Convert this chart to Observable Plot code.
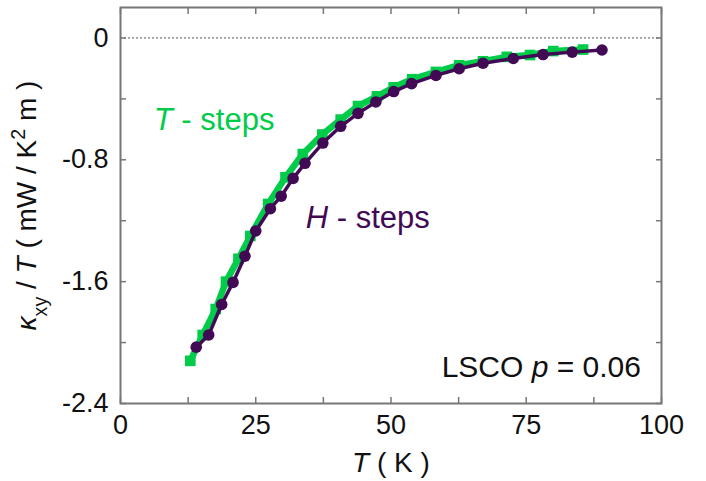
<!DOCTYPE html>
<html>
<head>
<meta charset="utf-8">
<script src="https://cdn.jsdelivr.net/npm/d3@7"></script>
<script src="https://cdn.jsdelivr.net/npm/@observablehq/plot@0.6"></script>
<style>
  html, body { margin: 0; padding: 0; background: #fff; }
  svg { font-family: "Liberation Sans", Arial, sans-serif; }
</style>
</head>
<body>
<div id="chart"></div>
<script>
// T-steps (green squares)
const tStepsT = [12.9, 15.2, 17.6, 19.5, 21.8, 24.0, 27.3, 30.5, 33.7, 37.3, 40.7, 43.9, 47.4, 50.5, 53.9, 58.3, 62.6, 67.0, 71.4, 75.7, 80.0, 85.5];
const tStepsK = [-2.12, -1.95, -1.78, -1.60, -1.45, -1.30, -1.09, -0.915, -0.762, -0.634, -0.536, -0.447, -0.383, -0.324, -0.271, -0.223, -0.179, -0.153, -0.124, -0.112, -0.086, -0.076];
// H-steps (purple circles)
const hStepsT = [14.0, 16.3, 18.7, 20.8, 23.0, 25.0, 27.7, 29.7, 31.9, 34.1, 37.4, 40.7, 43.9, 47.2, 50.5, 53.8, 58.3, 62.6, 67.0, 72.6, 78.1, 83.5, 89.0];
const hStepsK = [-2.03, -1.95, -1.75, -1.605, -1.433, -1.267, -1.121, -1.039, -0.922, -0.823, -0.690, -0.580, -0.495, -0.420, -0.352, -0.300, -0.246, -0.202, -0.166, -0.135, -0.109, -0.093, -0.079];

const xTickLabels = [0, 25, 50, 75, 100];
const xTickMarks = [0, 12.5, 25, 37.5, 50, 62.5, 75, 87.5, 100];
const yTickLabels = [0, -0.8, -1.6, -2.4];
const yTickMarks = [0, -0.4, -0.8, -1.2, -1.6, -2.0, -2.4];

const GREEN = "#00cc4a";
const PURPLE = "#420a55";

const tData = tStepsT.map((t, i) => ({T: t, k: tStepsK[i]}));
const hData = hStepsT.map((t, i) => ({T: t, k: hStepsK[i]}));

const fmtY = d => d === 0 ? "0" : d.toFixed(1);

const chart = Plot.plot({
  width: 706,
  height: 481,
  marginLeft: 120,
  marginRight: 45,
  marginTop: 7,
  marginBottom: 78,
  style: {fontFamily: "'Liberation Sans', Arial, sans-serif", background: "#fff"},
  x: {domain: [0, 100]},
  y: {domain: [-2.4, 0.2]},
  marks: [
    Plot.ruleY([0], {stroke: "#555", strokeWidth: 1, strokeDasharray: "2,2"}),
    Plot.line(tData, {x: "T", y: "k", stroke: GREEN, strokeWidth: 6.5}),
    Plot.dot(tData, {x: "T", y: "k", symbol: "square", fill: GREEN, r: 6}),
    Plot.line(hData, {x: "T", y: "k", stroke: PURPLE, strokeWidth: 3.5}),
    Plot.dot(hData, {x: "T", y: "k", fill: PURPLE, r: 5.8}),
    Plot.frame({stroke: "#777", strokeWidth: 2}),
    Plot.axisX(xTickMarks, {anchor: "bottom", tickSize: -6, tickFormat: () => "", label: null, stroke: "#777", strokeWidth: 1.5}),
    Plot.axisX(xTickMarks, {anchor: "top", tickSize: -6, tickFormat: () => "", label: null, stroke: "#777", strokeWidth: 1.5}),
    Plot.axisY(yTickMarks, {anchor: "left", tickSize: -6, tickFormat: () => "", label: null, stroke: "#777", strokeWidth: 1.5}),
    Plot.axisY(yTickMarks, {anchor: "right", tickSize: -6, tickFormat: () => "", label: null, stroke: "#777", strokeWidth: 1.5}),
    Plot.axisX(xTickLabels, {anchor: "bottom", tickSize: 0, tickPadding: 11, label: null, fontSize: 27, fill: "#111"}),
    Plot.axisY(yTickLabels, {anchor: "left", tickSize: 0, tickPadding: 12, tickFormat: fmtY, label: null, fontSize: 27, fill: "#111"}),
    Plot.text(["T ( K )"], {frameAnchor: "bottom", dy: 68, fontSize: 28, fill: "#111", className: "xlab"}),
    Plot.text(["κxy / T ( mW / K2 m )"], {frameAnchor: "left", dx: -93, rotate: -90, textAnchor: "middle", lineAnchor: "middle", fontSize: 28, fill: "#111", className: "ylab"}),
    Plot.text(["T - steps"], {x: 17.3, y: -0.54, fontSize: 31, fill: GREEN, className: "tlab"}),
    Plot.text(["H - steps"], {x: 45.7, y: -1.18, fontSize: 31, fill: PURPLE, className: "hlab"}),
    Plot.text(["LSCO p = 0.06"], {x: 96.2, y: -2.16, textAnchor: "end", fontSize: 30, fill: "#111", className: "lsco"})
  ]
});

document.getElementById("chart").appendChild(chart);

const svg = d3.select(chart);
svg.select("g.xlab text").html('<tspan font-style="italic">T</tspan> ( K )');
svg.select("g.ylab text").html('<tspan font-style="italic">κ</tspan><tspan baseline-shift="sub" font-size="70%">xy</tspan> / <tspan font-style="italic">T</tspan> ( mW / K<tspan baseline-shift="super" font-size="70%">2</tspan> m )');
svg.select("g.tlab text").html('<tspan font-style="italic">T</tspan> - steps');
svg.select("g.hlab text").html('<tspan font-style="italic">H</tspan> - steps');
svg.select("g.lsco text").html('LSCO <tspan font-style="italic">p</tspan> = 0.06');
</script>
</body>
</html>
